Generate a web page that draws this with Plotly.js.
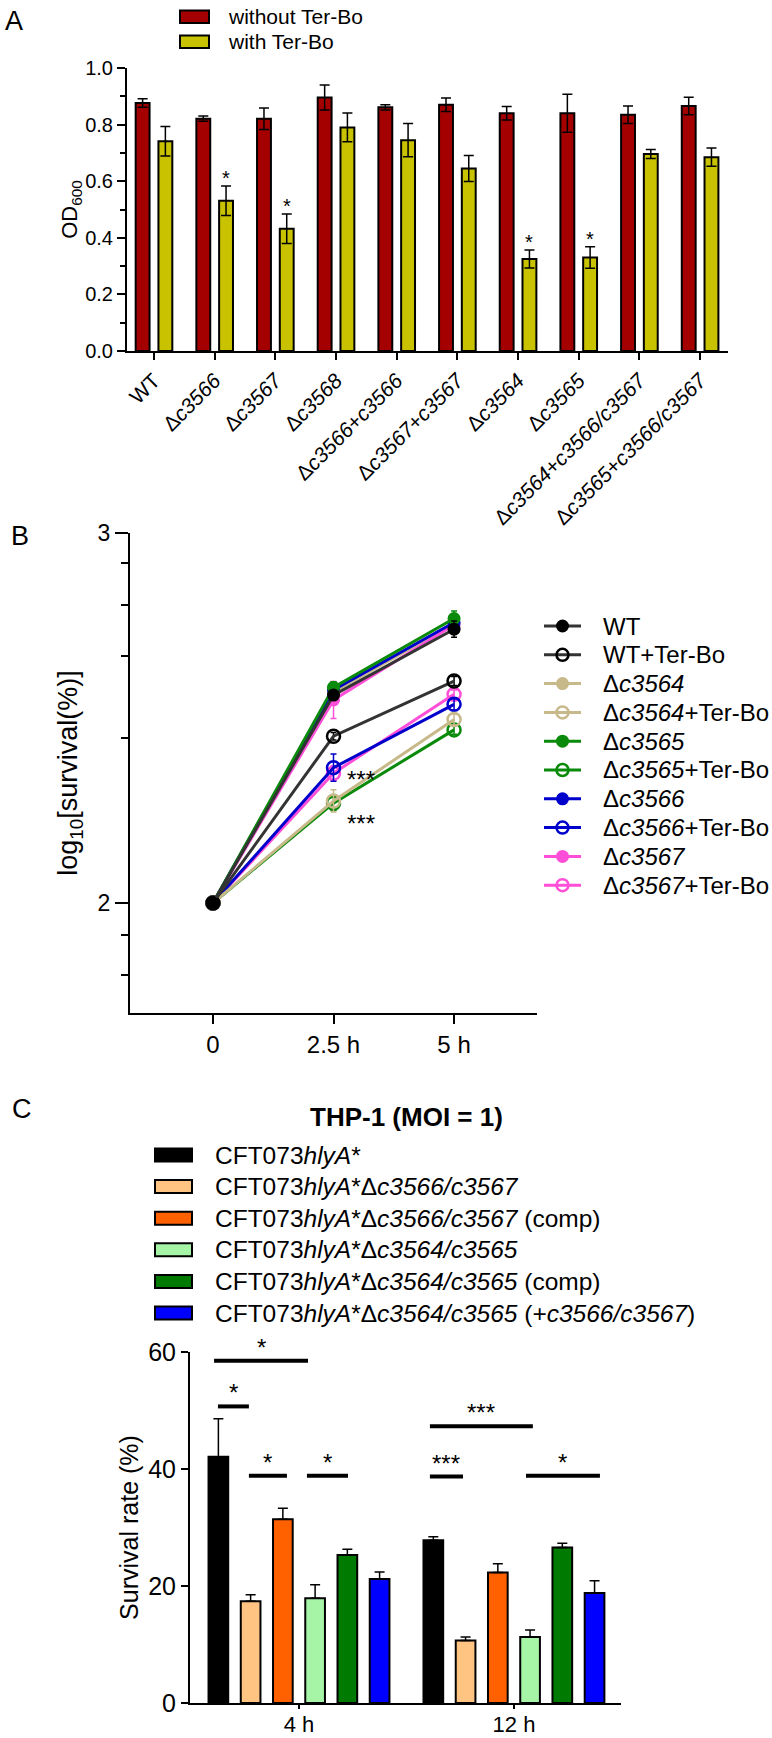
<!DOCTYPE html>
<html><head><meta charset="utf-8">
<script src="https://cdn.plot.ly/plotly-3.0.1.min.js"></script>
<style>html,body{margin:0;padding:0;background:#fff}#chart{width:772px;height:1738px}</style>
</head><body><div id="chart"></div>
<script>
// ---------------- Panel A data ----------------
const strainsA = ['WT','Δc3566','Δc3567','Δc3568','Δc3566+c3566','Δc3567+c3567','Δc3564','Δc3565','Δc3564+c3566/c3567','Δc3565+c3566/c3567'];
const strainLabelsA = ['WT','Δ<i>c3566</i>','Δ<i>c3567</i>','Δ<i>c3568</i>','Δ<i>c3566</i>+<i>c3566</i>','Δ<i>c3567</i>+<i>c3567</i>','Δ<i>c3564</i>','Δ<i>c3565</i>','Δ<i>c3564</i>+<i>c3566/c3567</i>','Δ<i>c3565</i>+<i>c3566/c3567</i>'];
const odWithout = [0.876,0.821,0.821,0.896,0.861,0.870,0.840,0.840,0.835,0.866];
const odWithoutErr = [0.015,0.009,0.038,0.044,0.009,0.024,0.024,0.067,0.031,0.031];
const odWith = [0.741,0.531,0.432,0.790,0.745,0.645,0.325,0.330,0.696,0.685];
const odWithErr = [0.052,0.052,0.052,0.051,0.059,0.046,0.032,0.038,0.016,0.032];
const sigA = ['','*','*','','','','*','*','',''];
const legendA = ['without Ter-Bo','with Ter-Bo'];

// ---------------- Panel B data ----------------
const timesB = [0, 2.5, 5];
const timeLabelsB = ['0','2.5 h','5 h'];
const wt = [2, 2.562, 2.740], wtErr = [0, 0.012, 0.022];
const wtTB = [2, 2.451, 2.600], wtTBErr = [0, 0.010, 0.012];
const d3564 = [2, 2.570, 2.755], d3564Err = [0, 0.010, 0.020];
const d3564TB = [2, 2.276, 2.496], d3564TBErr = [0, 0.030, 0.015];
const d3565 = [2, 2.583, 2.769], d3565Err = [0, 0.015, 0.020];
const d3565TB = [2, 2.270, 2.468], d3565TBErr = [0, 0.020, 0.012];
const d3566 = [2, 2.576, 2.758], d3566Err = [0, 0.015, 0.020];
const d3566TB = [2, 2.366, 2.537], d3566TBErr = [0, 0.037, 0.015];
const d3567 = [2, 2.549, 2.752], d3567Err = [0, 0.050, 0.020];
const d3567TB = [2, 2.351, 2.564], d3567TBErr = [0, 0.020, 0.012];
const minorTicksB = [1.806, 1.914, 2.446, 2.667, 2.806, 2.919];
const sigB = [{x: 3.07, y: 2.335, t: '***'}, {x: 3.07, y: 2.216, t: '***'}];

// ---------------- Panel C data ----------------
const timesC = ['4 h','12 h'];
const strainsC = ['CFT073<i>hlyA</i>*','CFT073<i>hlyA</i>*Δ<i>c3566/c3567</i>','CFT073<i>hlyA</i>*Δ<i>c3566/c3567</i> (comp)','CFT073<i>hlyA</i>*Δ<i>c3564/c3565</i>','CFT073<i>hlyA</i>*Δ<i>c3564/c3565</i> (comp)','CFT073<i>hlyA</i>*Δ<i>c3564/c3565</i> (+<i>c3566/c3567</i>)'];
const survWT = [42.1, 27.8], survWTErr = [6.5, 0.6];
const survD66 = [17.4, 10.7], survD66Err = [1.1, 0.6];
const survD66c = [31.4, 22.3], survD66cErr = [1.9, 1.5];
const survD64 = [17.9, 11.3], survD64Err = [2.3, 1.2];
const survD64c = [25.3, 26.6], survD64cErr = [1.0, 0.7];
const survD64p = [21.2, 18.8], survD64pErr = [1.2, 2.1];
// significance bars: [x0, x1, y, label] in category units / %
const sigC = [[-0.395, 0.042, 58.5, '*'], [-0.377, -0.233, 50.7, '*'], [-0.233, -0.056, 38.85, '*'], [0.037, 0.228, 38.85, '*'], [0.609, 0.763, 38.7, '***'], [0.609, 1.088, 47.3, '***'], [1.056, 1.4, 38.85, '*']];

// ---------------- styling ----------------
const W = 772, H = 1738;
const px = x => x / W, py = y => 1 - y / H;
const FONT = 'Liberation Sans, Arial, Helvetica, sans-serif';
const colA = ['#a50000', '#c8c200'];
const colC = ['#000000', '#ffc382', '#ff6000', '#a6f5a6', '#007a00', '#0000ff'];

const traces = [];
// Panel A bars
traces.push({type: 'bar', x: strainsA, y: odWithout, name: legendA[0], xaxis: 'x', yaxis: 'y', showlegend: false,
  marker: {color: colA[0], line: {color: '#000', width: 2}},
  error_y: {type: 'data', array: odWithoutErr, visible: true, color: '#000', thickness: 1.5, width: 5}});
traces.push({type: 'bar', x: strainsA, y: odWith, name: legendA[1], xaxis: 'x', yaxis: 'y', showlegend: false,
  marker: {color: colA[1], line: {color: '#000', width: 2}},
  error_y: {type: 'data', array: odWithErr, visible: true, color: '#000', thickness: 1.5, width: 5}});

// Panel B series in legend order; z = drawing order (bottom -> top)
const seriesB = [
  {name: 'WT', y: wt, e: wtErr, c: '#000000', lc: '#333333', open: false, z: 9},
  {name: 'WT+Ter-Bo', y: wtTB, e: wtTBErr, c: '#000000', lc: '#333333', open: true, z: 8},
  {name: 'Δ<i>c3564</i>', y: d3564, e: d3564Err, c: '#c8b98a', lc: '#c8b98a', open: false, z: 0},
  {name: 'Δ<i>c3564</i>+Ter-Bo', y: d3564TB, e: d3564TBErr, c: '#c8b98a', lc: '#c8b98a', open: true, z: 7},
  {name: 'Δ<i>c3565</i>', y: d3565, e: d3565Err, c: '#0a8a0a', lc: '#0a8a0a', open: false, z: 5},
  {name: 'Δ<i>c3565</i>+Ter-Bo', y: d3565TB, e: d3565TBErr, c: '#0a8a0a', lc: '#0a8a0a', open: true, z: 6},
  {name: 'Δ<i>c3566</i>', y: d3566, e: d3566Err, c: '#0000cc', lc: '#0000cc', open: false, z: 3},
  {name: 'Δ<i>c3566</i>+Ter-Bo', y: d3566TB, e: d3566TBErr, c: '#0000cc', lc: '#0000cc', open: true, z: 4},
  {name: 'Δ<i>c3567</i>', y: d3567, e: d3567Err, c: '#ff4fd8', lc: '#ff4fd8', open: false, z: 1},
  {name: 'Δ<i>c3567</i>+Ter-Bo', y: d3567TB, e: d3567TBErr, c: '#ff4fd8', lc: '#ff4fd8', open: true, z: 2}
];
seriesB.slice().sort((a, b) => a.z - b.z).forEach(s => traces.push({
  type: 'scatter', mode: 'lines+markers', x: timesB, y: s.y, name: s.name, xaxis: 'x2', yaxis: 'y2',
  showlegend: false, cliponaxis: false,
  line: {color: s.lc, width: 3},
  marker: {symbol: s.open ? 'circle-open' : 'circle', size: 13, color: s.c, line: {color: s.c, width: s.open ? 2.5 : 0}},
  error_y: {type: 'data', array: s.e, visible: true, color: s.c, thickness: 1.5, width: 3}
}));

// Panel C bars
const seriesC = [survWT, survD66, survD66c, survD64, survD64c, survD64p];
const errC = [survWTErr, survD66Err, survD66cErr, survD64Err, survD64cErr, survD64pErr];
const slotC = 0.15, barWC = 0.0916;
seriesC.forEach((v, i) => traces.push({
  type: 'bar', x: timesC, y: v, name: strainsC[i], xaxis: 'x3', yaxis: 'y3', showlegend: false,
  offset: -3 * slotC + i * slotC + (slotC - barWC) / 2, width: barWC,
  marker: {color: colC[i], line: {color: '#000', width: 2}},
  error_y: {type: 'data', array: errC[i], arrayminus: v.map(() => 0), symmetric: false, visible: true, color: '#000', thickness: 1.5, width: 5}
}));

// ---------------- annotations & shapes ----------------
const annotations = [];
const shapes = [];
const txt = (t, x, y, size, xanchor, extra) => annotations.push(Object.assign({text: t, x: px(x), y: py(y), xref: 'paper', yref: 'paper',
  xanchor: xanchor || 'center', yanchor: 'middle', showarrow: false, font: {size: size, family: FONT, color: '#000'}}, extra || {}));
txt('A', 14, 21, 27); txt('B', 20, 536, 27); txt('C', 22, 1109, 27);

// Panel A legend (swatches + labels)
legendA.forEach((t, i) => {
  const yc = 16.7 + i * 25;
  shapes.push({type: 'rect', xref: 'paper', yref: 'paper', x0: px(180), x1: px(209), y0: py(yc + 6.3), y1: py(yc - 6.3), fillcolor: colA[i], line: {color: '#000', width: 2}});
  txt(t, 226, yc, 21, 'left');
});
// Panel A asterisks
const groupSlotA = (1 - 0.25) / 2;
sigA.forEach((s, i) => {
  if (!s) return;
  annotations.push({text: s, x: i + groupSlotA / 2, y: odWith[i] + odWithErr[i], xref: 'x', yref: 'y', xanchor: 'center', yanchor: 'bottom', yshift: -5, showarrow: false, font: {size: 20, family: FONT, color: '#000'}});
});

// Panel B legend (line + marker swatches + labels)
seriesB.forEach((s, i) => {
  const yc = 626 + i * 28.8;
  shapes.push({type: 'line', xref: 'paper', yref: 'paper', x0: px(544), x1: px(581), y0: py(yc), y1: py(yc), line: {color: s.lc, width: 3}});
  const r = s.open ? 6 : 6.5;
  shapes.push({type: 'circle', xref: 'paper', yref: 'paper', x0: px(562.5 - r), x1: px(562.5 + r), y0: py(yc + r), y1: py(yc - r),
    fillcolor: s.open ? 'rgba(0,0,0,0)' : s.c, line: {color: s.c, width: s.open ? 2.5 : 0}});
  txt(s.name, 601, yc, 24, 'left');
});
// Panel B asterisks
sigB.forEach(s => annotations.push({text: s.t, x: s.x, y: s.y, xref: 'x2', yref: 'y2', xanchor: 'center', yanchor: 'middle', showarrow: false, font: {size: 24, family: FONT, color: '#000'}}));

// Panel C title
txt('<b>THP-1 (MOI = 1)</b>', 406, 1117, 26);
// Panel C legend
strainsC.forEach((t, i) => {
  const yc = 1155 + i * 31.6;
  shapes.push({type: 'rect', xref: 'paper', yref: 'paper', x0: px(155), x1: px(192), y0: py(yc + 6.5), y1: py(yc - 6.5), fillcolor: colC[i], line: {color: '#000', width: 2}});
  txt(t, 213, yc, 24.5, 'left');
});
// Panel C significance
sigC.forEach(([x0, x1, y, t]) => {
  shapes.push({type: 'line', xref: 'x3', yref: 'y3', x0: x0, x1: x1, y0: y, y1: y, line: {color: '#000', width: 4}});
  annotations.push({text: t, x: (x0 + x1) / 2, y: y, xref: 'x3', yref: 'y3', xanchor: 'center', yanchor: 'bottom', yshift: -2, showarrow: false, font: {size: 24, family: FONT, color: '#000'}});
});

const axBase = {showline: true, linecolor: '#000', linewidth: 2, ticks: 'outside', tickcolor: '#000', tickwidth: 2, showgrid: false, zeroline: false, automargin: false, fixedrange: true};

const layout = {
  width: W, height: H, margin: {l: 0, r: 0, t: 0, b: 0},
  paper_bgcolor: '#fff', plot_bgcolor: 'rgba(0,0,0,0)',
  font: {family: FONT, color: '#000'},
  barmode: 'group', bargap: 0.25, bargroupgap: 0.39,
  showlegend: false,
  xaxis: Object.assign({}, axBase, {domain: [px(127), px(728)], anchor: 'y', type: 'category', range: [-0.445, 9.46],
    tickmode: 'array', tickvals: strainsA, ticktext: strainLabelsA, tickangle: -45, ticklen: 7, tickfont: {size: 21}}),
  yaxis: Object.assign({}, axBase, {domain: [py(351), py(68)], anchor: 'x', range: [0, 1], dtick: 0.2, tickformat: '.1f', ticklen: 8,
    minor: {dtick: 0.1, ticklen: 5, tickwidth: 2, tickcolor: '#000', ticks: 'outside'}, tickfont: {size: 20},
    title: {text: 'OD<sub>600</sub>', font: {size: 22}, standoff: 1}}),
  xaxis2: Object.assign({}, axBase, {domain: [px(130), px(537)], anchor: 'y2', range: [-1.72, 6.72],
    tickmode: 'array', tickvals: timesB, ticktext: timeLabelsB, ticklen: 9, tickfont: {size: 24}}),
  yaxis2: Object.assign({}, axBase, {domain: [py(1013), py(533)], anchor: 'x2', range: [1.703, 3],
    tickmode: 'array', tickvals: [2, 3], ticktext: ['2', '3'], ticklen: 13, tickfont: {size: 23},
    minor: {tickmode: 'array', tickvals: minorTicksB, ticklen: 7, tickwidth: 2, tickcolor: '#000', ticks: 'outside'},
    title: {text: 'log<sub>10</sub>[survival(%)]', font: {size: 27}, standoff: 12}}),
  xaxis3: Object.assign({}, axBase, {domain: [px(190), px(621)], anchor: 'y3', type: 'category', range: [-0.507, 1.498], ticklen: 4, ticklabelstandoff: -3, tickfont: {size: 22}}),
  yaxis3: Object.assign({}, axBase, {domain: [py(1703), py(1352)], anchor: 'x3', range: [0, 60], dtick: 20, ticklen: 7, tickfont: {size: 25},
    title: {text: 'Survival rate (%)', font: {size: 25}, standoff: 2}}),
  annotations: annotations,
  shapes: shapes
};

Plotly.newPlot('chart', traces, layout, {staticPlot: true, displayModeBar: false});
</script>
</body></html>
